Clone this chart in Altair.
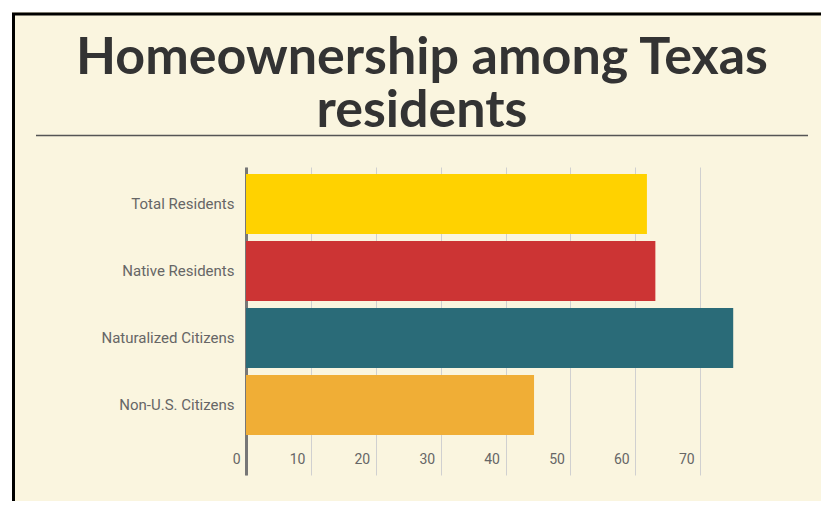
import altair as alt
import pandas as pd

categories = ["Total Residents", "Native Residents", "Naturalized Citizens", "Non-U.S. Citizens"]
values = [61.8, 63.1, 75.1, 44.4]
colors = ["#FFD200", "#CC3434", "#2A6B78", "#F0AE36"]
tick_values = [0, 10, 20, 30, 40, 50, 60, 70]
title_lines = ["Homeownership among Texas", "residents"]

df = pd.DataFrame({"group": categories, "value": values})
one = pd.DataFrame({"k": [0]})

W, H = 519, 308
LABEL_FONT = "Liberation Sans Narrow, Roboto, sans-serif"

outer = alt.Chart(one).mark_rect(fill="transparent", stroke="#FFFFFF", strokeWidth=8).encode(
    x=alt.value(-238), x2=alt.value(700), y=alt.value(-159), y2=alt.value(500)
)
frame = alt.Chart(one).mark_rect(fill="transparent", stroke="#000000", strokeWidth=3).encode(
    x=alt.value(-232.5), x2=alt.value(640), y=alt.value(-153), y2=alt.value(420)
)

title = alt.Chart(one).mark_text(
    text=title_lines, font="Lato", fontWeight="bold", fontSize=52, color="#333333",
    align="center", baseline="alphabetic", lineHeight=53,
).encode(x=alt.value(176), y=alt.value(-93))

rule = alt.Chart(one).mark_rule(color="#555555", strokeWidth=1.5).encode(
    x=alt.value(36 - 246), x2=alt.value(808 - 246), y=alt.value(135.5 - 167)
)

bars = alt.Chart(df).mark_bar().encode(
    x=alt.X("value:Q", scale=alt.Scale(domain=[0, 80], nice=False),
            axis=alt.Axis(values=tick_values, title=None, domain=False, ticks=False,
                          grid=True, gridColor="#D0D0D0", gridWidth=1,
                          labelAlign="right", labelOffset=-6, labelBaseline="top",
                          labelPadding=2, offset=-25, labelFont=LABEL_FONT,
                          labelFontSize=14, labelColor="#666666")),
    y=alt.Y("group:N", sort=categories,
            scale=alt.Scale(paddingInner=0.1045, paddingOuter=0.35, align=0.149),
            axis=alt.Axis(title=None, ticks=False, grid=False, domain=True,
                          domainColor="#777777", domainWidth=3, labelPadding=12,
                          labelFont=LABEL_FONT, labelFontSize=15, labelColor="#666666")),
    color=alt.Color("group:N", scale=alt.Scale(domain=categories, range=colors), legend=None),
)

chart = alt.layer(outer, frame, title, rule, bars).properties(
    width=W, height=H,
    autosize=alt.AutoSizeParams(type="none"),
    padding={"left": 238, "top": 159, "right": 56, "bottom": 26},
    background="#FAF5DF",
).configure_view(stroke=None)

chart.save("out.html", embed_options={"renderer": "svg", "actions": False})
